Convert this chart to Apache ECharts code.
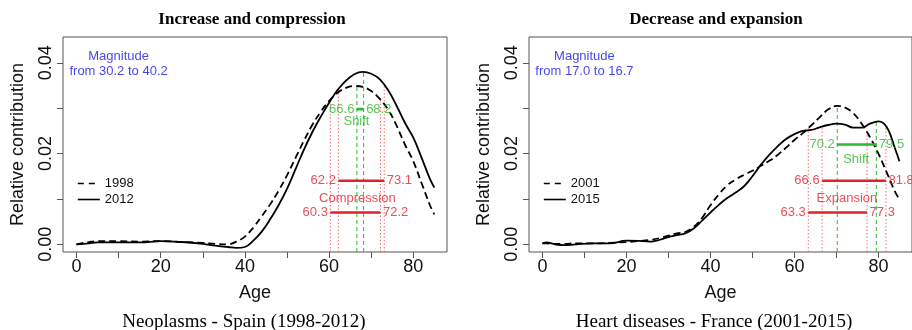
<!DOCTYPE html>
<html><head><meta charset="utf-8">
<script src="https://cdn.jsdelivr.net/npm/echarts@6/dist/echarts.min.js"></script>
<style>html,body{margin:0;padding:0;background:#fff}#c{width:912px;height:330px}</style>
</head><body><div id="c"></div>
<script>
// ---------- DATA ----------
// Panel A : Neoplasms - Spain (1998-2012)
const agesA = [0,3,5,10,15,20,25,30,33,36,38,40,42,44,46,48,50,52,54,56,58,60,62,64,66,68,70,72,74,76,78,80,82,84,85];
const y1998 = [0.0000,0.0005,0.0007,0.0007,0.0006,0.0007,0.0005,0.0003,0.0001,0.0000,0.0006,0.0017,0.0037,0.0062,0.0088,0.0118,0.0152,0.0190,0.0228,0.0263,0.0292,0.0316,0.0334,0.0345,0.0349,0.0347,0.0338,0.0321,0.0297,0.0262,0.0220,0.0183,0.0134,0.0085,0.0066];
const y2012 = [0.0000,0.0002,0.0004,0.0004,0.0004,0.0007,0.0005,0.0001,-0.0003,-0.0006,-0.0008,-0.0006,0.0008,0.0028,0.0055,0.0086,0.0122,0.0165,0.0208,0.0247,0.0281,0.0312,0.0340,0.0361,0.0375,0.0380,0.0376,0.0364,0.0340,0.0306,0.0268,0.0235,0.0190,0.0143,0.0125];
const shiftA = [66.6, 68.2];          // modal ages 1998, 2012
const spreadA1998 = [60.3, 72.2];
const spreadA2012 = [62.2, 73.1];
const magnitudeA = [30.2, 40.2];
const yearsA = ['1998','2012'];

// Panel B : Heart diseases - France (2001-2015)
const agesB = [0,1,3,5,8,12,16,20,24,26,28,30,32,34,36,38,40,42,44,46,48,50,52,54,56,58,60,62,64,66,68,70,72,74,76,78,80,82,84,85];
const y2001 = [0.0002,0.0002,0.0001,0.0001,0.0002,0.0002,0.0003,0.0005,0.0008,0.0010,0.0014,0.0019,0.0024,0.0027,0.0038,0.0058,0.0086,0.0110,0.0130,0.0143,0.0153,0.0162,0.0173,0.0184,0.0197,0.0213,0.0230,0.0245,0.0262,0.0280,0.0297,0.0305,0.0302,0.0289,0.0266,0.0236,0.0200,0.0158,0.0115,0.0100];
const y2015 = [0.0002,0.0004,0.0000,-0.0002,0.0000,0.0002,0.0002,0.0008,0.0007,0.0006,0.0010,0.0016,0.0020,0.0024,0.0035,0.0052,0.0070,0.0087,0.0102,0.0114,0.0128,0.0150,0.0175,0.0197,0.0216,0.0232,0.0243,0.0250,0.0252,0.0258,0.0263,0.0266,0.0264,0.0257,0.0257,0.0266,0.0271,0.0258,0.0210,0.0183];
const shiftB = [70.2, 79.5];
const spreadB2001 = [63.3, 77.3];
const spreadB2015 = [66.6, 81.8];
const magnitudeB = [17.0, 16.7];
const yearsB = ['2001','2015'];

// Axis ticks
const xTicks = [0,10,20,30,40,50,60,70,80];
const xLabels = [0,20,40,60,80];
const yTicks = [0,0.01,0.02,0.03,0.04];
const yLabels = [0,0.02,0.04];

// ---------- LAYOUT / STYLE ----------
const X_MIN = -3.2, X_MAX = 88.0, Y_MIN = -0.0017, Y_MAX = 0.0457;
const LEV = {shift:[0.0298,0.0220], shiftTxt:[0.0270,0.0188], top:0.0140, mid:0.0101, bot:0.0070, mag:0.0397, magX:10};
const RED = '#e3202a', GREEN = '#2db82d', BLUE = '#1414e6', DOT = 'rgba(232,60,70,0.75)';
const SANS = 'Liberation Sans', SERIF = 'Liberation Serif';

function interp(xs, ys, a){
  for (let i=1;i<xs.length;i++){ if (a<=xs[i]){ const t=(a-xs[i-1])/(xs[i]-xs[i-1]); return ys[i-1]+t*(ys[i]-ys[i-1]); } }
  return ys[ys.length-1];
}
const pairs = (xs, ys) => xs.map((x,i)=>[x, ys[i]]);

function panel(gi, ages, yOld, yNew, years, shift, spOld, spNew, mag, txt, shiftTxtX, mainTxtX){
  const S = [];
  const ax = {xAxisIndex:gi, yAxisIndex:gi};
  const vline = (x, top, ls) => Object.assign({type:'line', data:[[x,Y_MIN],[x,top]], symbol:'none', silent:true, lineStyle:ls, z:1}, ax);
  spOld.forEach(a => S.push(vline(a, interp(ages,yOld,a), {color:DOT,width:1,type:[1.5,2]})));
  spNew.forEach(a => S.push(vline(a, interp(ages,yNew,a), {color:DOT,width:1,type:[1.5,2]})));
  S.push(vline(shift[0], interp(ages,yOld,shift[0]), {color:GREEN,width:1,type:[4,3]}));
  S.push(vline(shift[1], interp(ages,yNew,shift[1]), {color:GREEN,width:1,type:[4,3]}));
  S.push(Object.assign({type:'line', name:years[0], data:pairs(ages,yOld), symbol:'none', smooth:0.4, lineStyle:{color:'#000',width:1.8,type:[7,4]}, itemStyle:{color:'#000'}, z:3}, ax));
  S.push(Object.assign({type:'line', name:years[1], data:pairs(ages,yNew), symbol:'none', smooth:0.4, lineStyle:{color:'#000',width:1.8}, itemStyle:{color:'#000'}, z:3}, ax));
  const bar = (xs, y, c) => Object.assign({type:'line', data:[[xs[0],y],[xs[1],y]], symbol:'none', silent:true, lineStyle:{color:c,width:2.6}, z:4}, ax);
  S.push(bar(shift, LEV.shift[gi], GREEN));
  S.push(bar(spNew, LEV.top, RED));
  S.push(bar(spOld, LEV.bot, RED));
  const lab = (x,y,text,pos,color,size) => ({value:[x,y], label:{show:true, formatter:text, position:pos, distance:2, color:color, fontSize:size||13, fontFamily:SANS, lineHeight:15}});
  const f = v => v.toFixed(1);
  const data = [
    lab(shift[0], LEV.shift[gi], f(shift[0]), 'left', GREEN),
    lab(shift[1], LEV.shift[gi], f(shift[1]), 'right', GREEN),
    lab(shiftTxtX, LEV.shiftTxt[gi], 'Shift', 'inside', GREEN),
    lab(spNew[0], LEV.top, f(spNew[0]), 'left', RED),
    lab(spNew[1], LEV.top, f(spNew[1]), 'right', RED),
    lab(mainTxtX, LEV.mid, txt, 'inside', RED),
    lab(spOld[0], LEV.bot, f(spOld[0]), 'left', RED),
    lab(spOld[1], LEV.bot, f(spOld[1]), 'right', RED),
    lab(LEV.magX, LEV.mag, 'Magnitude\nfrom ' + f(mag[0]) + ' to ' + f(mag[1]), 'inside', BLUE)
  ];
  S.push(Object.assign({type:'scatter', data:data, symbol:'circle', symbolSize:1, itemStyle:{color:'rgba(0,0,0,0)'}, silent:true, z:5}, ax));
  return S;
}

function xAxis(gi){
  return {type:'value', gridIndex:gi, min:X_MIN, max:X_MAX,
    axisLine:{show:false, onZero:false}, splitLine:{show:false},
    axisTick:{show:true, length:6, customValues:xTicks, lineStyle:{color:'#555'}},
    axisLabel:{customValues:xLabels, margin:6, fontSize:18, fontFamily:SANS, color:'#111'},
    name:'Age', nameLocation:'middle', nameGap:32, nameTextStyle:{fontSize:18, fontFamily:SANS, color:'#111'}};
}
function yAxis(gi){
  return {type:'value', gridIndex:gi, min:Y_MIN, max:Y_MAX,
    axisLine:{show:false, onZero:false}, splitLine:{show:false},
    axisTick:{show:true, length:6, customValues:yTicks, lineStyle:{color:'#555'}},
    axisLabel:{customValues:yLabels, rotate:90, margin:8, fontSize:18, fontFamily:SANS, color:'#111', formatter:v=>v.toFixed(2)},
    name:'Relative contribution', nameLocation:'middle', nameGap:36, nameTextStyle:{fontSize:18, fontFamily:SANS, color:'#111'}};
}
function legend(names, left){
  return {data:names.map((n,i)=>({name:n, lineStyle:{type: i===0 ? [6,5] : 'solid', width:1.6}})),
    left:left, top:177, padding:0, orient:'vertical', itemWidth:22, itemHeight:14, itemGap:3, selectedMode:false,
    itemStyle:{color:'rgba(0,0,0,0)', borderWidth:0},
    textStyle:{fontSize:13, fontFamily:SANS, color:'#111'}};
}
const gtext = (x,y,text,font) => ({type:'text', x:x, y:y, style:{text:text, align:'center', verticalAlign:'middle', font:font, fill:'#000'}});

const chart = echarts.init(document.getElementById('c'), null, {renderer:'canvas'});
chart.setOption({
  animation:false,
  backgroundColor:'#fff',
  grid:[
    {left:63, top:37, width:384, height:215, show:true, borderColor:'#555', borderWidth:1, backgroundColor:'rgba(0,0,0,0)'},
    {left:529, top:37, width:384, height:215, show:true, borderColor:'#555', borderWidth:1, backgroundColor:'rgba(0,0,0,0)'}
  ],
  xAxis:[xAxis(0), xAxis(1)],
  yAxis:[yAxis(0), yAxis(1)],
  legend:[legend(yearsA, 77), legend(yearsB, 543)],
  series:[].concat(
    panel(0, agesA, y1998, y2012, yearsA, shiftA, spreadA1998, spreadA2012, magnitudeA, 'Compression', 66.5, 66.7),
    panel(1, agesB, y2001, y2015, yearsB, shiftB, spreadB2001, spreadB2015, magnitudeB, 'Expansion', 74.7, 72.5)
  ),
  graphic:[
    gtext(252, 20, 'Increase and compression', 'bold 17px "Liberation Serif"'),
    gtext(716, 20, 'Decrease and expansion', 'bold 17px "Liberation Serif"'),
    gtext(244, 322, 'Neoplasms - Spain (1998-2012)', '19px "Liberation Serif"'),
    gtext(714, 322, 'Heart diseases - France (2001-2015)', '19px "Liberation Serif"')
  ]
});
</script></body></html>
